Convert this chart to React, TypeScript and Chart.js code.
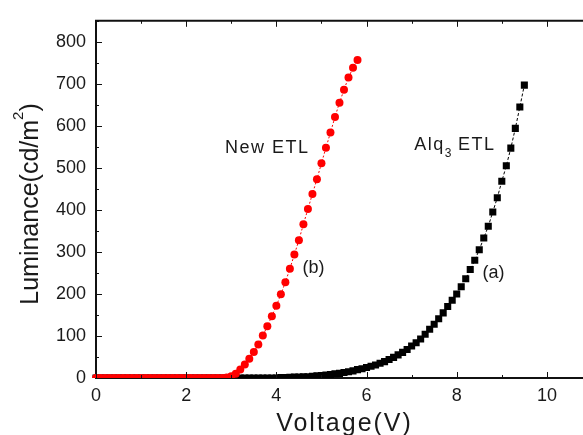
import { useEffect, useRef } from "react";
import { Chart, registerables } from "chart.js";

Chart.register(...registerables);

// ---- data ----
const voltageNew = [
  0.0, 0.1, 0.2, 0.3, 0.4, 0.5, 0.6, 0.7, 0.8, 0.9,
  1.0, 1.1, 1.2, 1.3, 1.4, 1.5, 1.6, 1.7, 1.8, 1.9,
  2.0, 2.1, 2.2, 2.3, 2.4, 2.5, 2.6, 2.7, 2.8, 2.9,
  3.0, 3.1, 3.2, 3.3, 3.4, 3.5, 3.6, 3.7, 3.8, 3.9,
  4.0, 4.1, 4.2, 4.3, 4.4, 4.5, 4.6, 4.7, 4.8, 4.9,
  5.0, 5.1, 5.2, 5.3, 5.4, 5.5, 5.6, 5.7, 5.8,
];
const luminanceNew = [
  0, 0, 0, 0, 0, 0, 0, 0, 0, 0,
  0, 0, 0, 0, 0, 0, 0, 0, 0, 0,
  0, 0, 0, 0, 0, 0, 0, 0, 0, 1,
  4, 10, 20, 32, 46, 62, 80, 101, 123, 147,
  172, 199, 228, 260, 294, 328, 366, 402, 438, 473,
  511, 548, 584, 621, 655, 686, 715, 738, 757,
];
const voltageAlq = [
  0.0, 0.1, 0.2, 0.3, 0.4, 0.5, 0.6, 0.7, 0.8, 0.9,
  1.0, 1.1, 1.2, 1.3, 1.4, 1.5, 1.6, 1.7, 1.8, 1.9,
  2.0, 2.1, 2.2, 2.3, 2.4, 2.5, 2.6, 2.7, 2.8, 2.9,
  3.0, 3.1, 3.2, 3.3, 3.4, 3.5, 3.6, 3.7, 3.8, 3.9,
  4.0, 4.1, 4.2, 4.3, 4.4, 4.5, 4.6, 4.7, 4.8, 4.9,
  5.0, 5.1, 5.2, 5.3, 5.4, 5.5, 5.6, 5.7, 5.8, 5.9,
  6.0, 6.1, 6.2, 6.3, 6.4, 6.5, 6.6, 6.7, 6.8, 6.9,
  7.0, 7.1, 7.2, 7.3, 7.4, 7.5, 7.6, 7.7, 7.8, 7.9,
  8.0, 8.1, 8.2, 8.3, 8.4, 8.5, 8.6, 8.7, 8.8, 8.9,
  9.0, 9.1, 9.2, 9.3, 9.4, 9.5,
];
const luminanceAlq = [
  0, 0, 0, 0, 0, 0, 0, 0, 0, 0,
  0, 0, 0, 0, 0, 0, 0, 0, 0, 0,
  0, 0, 0, 0, 0, 0, 0, 0, 0, 0,
  0, 0, 0, 0, 0, 0, 0, 0, 0, 0,
  0, 1, 1, 1.5, 2, 2, 3, 3, 4, 5,
  6, 7, 8, 10, 11, 13, 15, 17, 20, 22,
  25, 28, 31, 35, 39, 44, 49, 55, 61, 68,
  76, 84, 93, 104, 116, 128, 141, 155, 170, 185,
  200, 217, 236, 258, 280, 305, 333, 361, 395, 429,
  468, 505, 547, 594, 645, 697,
];

const xMajorStep = 2;
const yMajorStep = 100;
const xMinorStep = 1;
const yMinorStep = 50;

const xTitle = "Voltage(V)";
const yTitleMain = "Luminance(cd/m";
const yTitleSup = "2";
const yTitleEnd = ")";

const labelNew = "New ETL";
const labelAlqMain = "Alq";
const labelAlqSub = "3";
const labelAlqEnd = " ETL";
const labelA = "(a)";
const labelB = "(b)";

const FONT = '"Liberation Sans", Arial, Helvetica, sans-serif';
const INK = "#111";

const framePlugin = {
  id: "framePlugin",
  afterDraw(chart: any) {
    const { ctx, chartArea: a, scales } = chart;
    const x = scales.x;
    const y = scales.y;
    ctx.save();
    // top frame line
    ctx.strokeStyle = INK;
    ctx.lineWidth = 2;
    ctx.beginPath();
    ctx.moveTo(a.left - 1, a.top);
    ctx.lineTo(a.right + 1, a.top);
    ctx.stroke();

    // inward ticks
    ctx.lineWidth = 1;
    ctx.beginPath();
    for (let v = x.min; v <= x.max + 1e-9; v += xMinorStep) {
      const px = Math.round(x.getPixelForValue(v)) + 0.5;
      const major = Math.abs(v / xMajorStep - Math.round(v / xMajorStep)) < 1e-6;
      const len = major ? 6 : 3;
      ctx.moveTo(px, a.bottom);
      ctx.lineTo(px, a.bottom - len);
      ctx.moveTo(px, a.top);
      ctx.lineTo(px, a.top + len);
    }
    for (let v = y.min; v <= y.max + 1e-9; v += yMinorStep) {
      const py = Math.round(y.getPixelForValue(v)) + 0.5;
      const major = Math.abs(v / yMajorStep - Math.round(v / yMajorStep)) < 1e-6;
      const len = major ? 6 : 3;
      ctx.moveTo(a.left, py);
      ctx.lineTo(a.left + len, py);
    }
    ctx.stroke();

    ctx.fillStyle = "#1a1a1a";
    ctx.textBaseline = "alphabetic";
    ctx.textAlign = "left";

    // x title
    ctx.font = `25px ${FONT}`;
    (ctx as any).letterSpacing = "2px";
    const wx = ctx.measureText(xTitle).width;
    const cx = (a.left + a.right) / 2 - 4;
    ctx.fillText(xTitle, cx - wx / 2, 431);

    // y title (rotated)
    (ctx as any).letterSpacing = "0px";
    ctx.save();
    ctx.translate(38, 204);
    ctx.rotate(-Math.PI / 2);
    ctx.font = `25px ${FONT}`;
    const w1 = ctx.measureText(yTitleMain).width;
    ctx.font = `15px ${FONT}`;
    const w2 = ctx.measureText(yTitleSup).width;
    ctx.font = `25px ${FONT}`;
    const w3 = ctx.measureText(yTitleEnd).width;
    let u = -(w1 + w2 + w3) / 2;
    ctx.fillText(yTitleMain, u, 0);
    u += w1;
    ctx.font = `15px ${FONT}`;
    ctx.fillText(yTitleSup, u, -15);
    u += w2;
    ctx.font = `25px ${FONT}`;
    ctx.fillText(yTitleEnd, u, 0);
    ctx.restore();

    // annotations (placed in data coordinates)
    ctx.font = `18px ${FONT}`;
    (ctx as any).letterSpacing = "1.5px";
    ctx.fillText(labelNew, x.getPixelForValue(2.86), y.getPixelForValue(536));

    let ax = x.getPixelForValue(7.06);
    const ay = y.getPixelForValue(543);
    ctx.fillText(labelAlqMain, ax, ay);
    ax += ctx.measureText(labelAlqMain).width;
    ctx.font = `12px ${FONT}`;
    (ctx as any).letterSpacing = "0px";
    ctx.fillText(labelAlqSub, ax, ay + 7);
    ax += ctx.measureText(labelAlqSub).width;
    ctx.font = `18px ${FONT}`;
    (ctx as any).letterSpacing = "1.5px";
    ctx.fillText(labelAlqEnd, ax, ay);

    (ctx as any).letterSpacing = "0px";
    ctx.font = `18px ${FONT}`;
    ctx.fillText(labelB, x.getPixelForValue(4.58), y.getPixelForValue(249));
    ctx.fillText(labelA, x.getPixelForValue(8.57), y.getPixelForValue(237));
    ctx.restore();
  },
};

export default function App() {
  const ref = useRef<HTMLCanvasElement | null>(null);

  useEffect(() => {
    document.body.style.margin = "0";
    const canvas = ref.current;
    if (!canvas) return;
    const chart = new Chart(canvas, {
      type: "scatter",
      data: {
        datasets: [
          {
            label: "New ETL",
            data: voltageNew.map((v, i) => ({ x: v, y: luminanceNew[i] })),
            showLine: true,
            borderColor: "#ff0000",
            borderWidth: 1,
            borderDash: [2, 2],
            pointStyle: "circle",
            pointRadius: 4,
            pointBackgroundColor: "#ff0000",
            pointBorderWidth: 0,
            clip: { left: 6, right: 6, top: 6, bottom: 0 } as any,
          },
          {
            label: "Alq3 ETL",
            data: voltageAlq.map((v, i) => ({ x: v, y: luminanceAlq[i] })),
            showLine: true,
            borderColor: "#000000",
            borderWidth: 1,
            borderDash: [3, 2],
            pointStyle: "rect",
            pointRadius: 5,
            pointBackgroundColor: "#000000",
            pointBorderWidth: 0,
            clip: { left: 6, right: 6, top: 6, bottom: 0 } as any,
          },
        ],
      },
      options: {
        responsive: false,
        animation: false,
        devicePixelRatio: 1,
        layout: { padding: { left: 0, top: 13, right: 4, bottom: 0 } },
        plugins: {
          legend: { display: false },
          tooltip: { enabled: false },
        },
        scales: {
          x: {
            type: "linear",
            position: "bottom",
            min: 0,
            max: 11.2,
            grid: { display: false, drawTicks: false },
            border: { display: true, color: INK, width: 2 },
            ticks: {
              stepSize: xMajorStep,
              includeBounds: false,
              autoSkip: false,
              maxRotation: 0,
              padding: 7,
              color: "#1a1a1a",
              font: { family: FONT, size: 18 },
            },
            afterFit: (s: any) => {
              s.height = 57;
            },
          },
          y: {
            type: "linear",
            min: 0,
            max: 850,
            grid: { display: false, drawTicks: false },
            border: { display: true, color: INK, width: 2 },
            ticks: {
              stepSize: yMajorStep,
              includeBounds: false,
              autoSkip: false,
              padding: 10,
              color: "#1a1a1a",
              font: { family: FONT, size: 18 },
            },
            afterFit: (s: any) => {
              s.width = 96;
            },
          },
        },
      },
      plugins: [framePlugin],
    });
    return () => chart.destroy();
  }, []);

  return (
    <div style={{ width: 583, height: 435, overflow: "hidden", background: "#fff" }}>
      <canvas ref={ref} width={606} height={435} style={{ width: 606, height: 435, display: "block" }} />
    </div>
  );
}
